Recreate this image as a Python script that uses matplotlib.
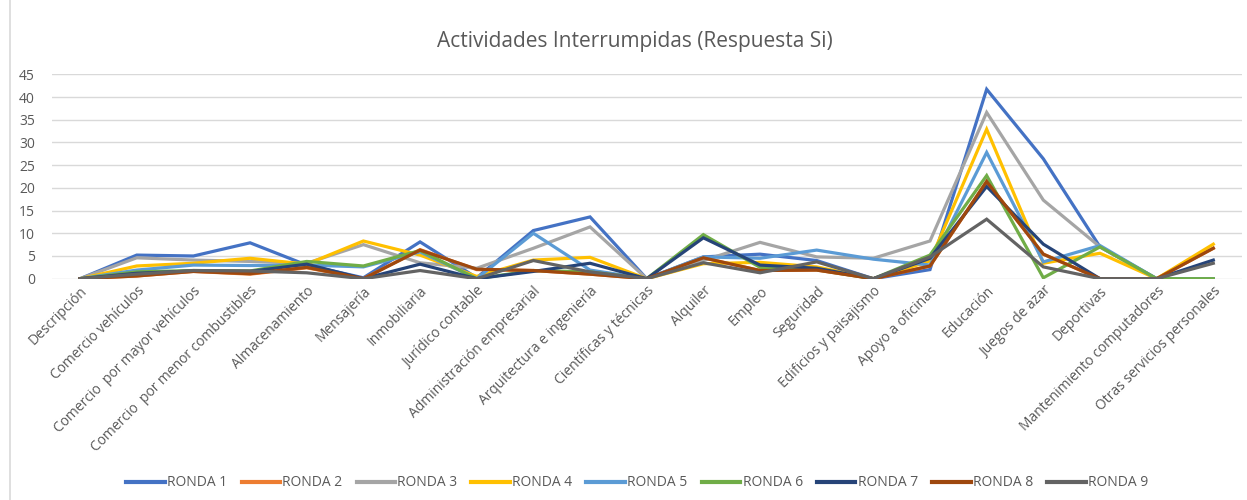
import matplotlib.pyplot as plt
from matplotlib.lines import Line2D

plt.rcParams['font.family'] = ['Open Sans', 'DejaVu Sans']

# Categorias del eje x
categorias = ["Descripción", "Comercio vehículos", "Comercio  por mayor vehículos",
              "Comercio  por menor combustibles", "Almacenamiento", "Mensajería",
              "Inmobiliaria", "Jurídico contable", "Administración empresarial",
              "Arquitectura e ingeniería", "Científicas y técnicas", "Alquiler",
              "Empleo", "Seguridad", "Edificios y paisajismo", "Apoyo a oficinas",
              "Educación", "Juegos de azar", "Deportivas", "Mantenimiento computadores",
              "Otras servicios personales"]

# Valores por ronda
ronda1 = [0, 5.2, 5.0, 7.9, 3.0, 0.2, 8.1, 0.2, 10.6, 13.6, 0, 4.8, 5.4, 4.0, 0, 2.0, 41.7, 26.4, 7.0, 0, 0]
ronda2 = [0, 0.6, 1.6, 1.0, 2.4, 0, 6.4, 2.0, 1.8, 1.0, 0, 4.6, 1.8, 1.9, 0, 2.8, 21.4, 5.4, 0, 0, 6.7]
ronda3 = [0, 4.6, 4.1, 3.8, 3.4, 7.5, 3.5, 2.3, 6.7, 11.4, 0, 4.0, 8.0, 4.8, 4.5, 8.3, 36.6, 17.3, 7.0, 0, 0]
ronda4 = [0, 2.8, 3.4, 4.5, 3.2, 8.3, 5.2, 0.5, 4.1, 4.7, 0, 3.3, 3.6, 2.6, 0, 3.9, 32.9, 3.4, 5.6, 0, 7.6]
ronda5 = [0, 1.9, 3.0, 2.9, 3.0, 2.6, 5.9, 0, 10.0, 1.9, 0, 4.8, 4.5, 6.3, 4.3, 3.0, 27.8, 3.7, 7.3, 0, 0]
ronda6 = [0, 1.5, 1.8, 1.7, 3.8, 2.8, 6.2, 0, 1.8, 1.5, 0, 9.7, 2.5, 2.0, 0, 5.2, 22.7, 0.2, 7.0, 0, 0]
ronda7 = [0, 1.2, 1.7, 1.6, 3.2, 0, 3.2, 0, 1.6, 3.4, 0, 9.0, 3.0, 2.3, 0, 4.5, 20.3, 7.6, 0, 0, 4.1]
ronda8 = [0, 0.6, 1.6, 1.1, 2.5, 0, 6.3, 2.1, 1.8, 1.0, 0, 4.6, 1.8, 1.9, 0, 2.8, 21.4, 5.4, 0, 0, 6.7]
ronda9 = [0, 1.0, 1.8, 1.7, 1.3, 0, 1.8, 0, 4.0, 1.5, 0, 3.5, 1.3, 3.7, 0, 4.8, 13.1, 2.6, 0, 0, 3.4]

series = [ronda1, ronda2, ronda3, ronda4, ronda5, ronda6, ronda7, ronda8, ronda9]
nombres = ["RONDA 1", "RONDA 2", "RONDA 3", "RONDA 4", "RONDA 5",
           "RONDA 6", "RONDA 7", "RONDA 8", "RONDA 9"]
colores = ["#4472C4", "#ED7D31", "#A5A5A5", "#FFC000", "#5B9BD5",
           "#70AD47", "#264478", "#9E480E", "#636363"]

texto = "#595959"

fig = plt.figure(figsize=(12.47, 5.0), dpi=100)
ax = fig.add_axes([0.0415, 0.4426, 0.9542, 0.4088])

x = list(range(len(categorias)))
for vals, nombre, color in zip(series, nombres, colores):
    ax.plot(x, vals, color=color, linewidth=2.3, label=nombre, solid_joinstyle='miter')

ax.set_xlim(-0.5, len(categorias) - 0.5)
ax.set_ylim(0, 45)
ax.set_yticks(range(0, 46, 5))
ax.yaxis.grid(True, color="#D9D9D9", linewidth=1)
ax.set_axisbelow(True)
for s in ax.spines.values():
    s.set_visible(False)
ax.tick_params(axis='both', length=0, colors=texto, labelsize=10)
ax.tick_params(axis='y', pad=12)
ax.set_xticks(x)
ax.set_xticklabels(categorias, rotation=45, ha='right', rotation_mode='anchor', color=texto)

fig.text(0.509, 0.918, "Actividades Interrumpidas (Respuesta Si)", ha='center', va='center',
         fontsize=15, color=texto)

handles = [Line2D([0], [0], color=c, linewidth=3) for c in colores]
fig.legend(handles, nombres, loc='center', bbox_to_anchor=(0.511, 0.034), ncol=9,
           frameon=False, fontsize=10, labelcolor=texto, handlelength=2.8,
           handletextpad=0.15, columnspacing=1.0)

# borde del area del grafico
fig.add_artist(Line2D([0.008, 0.008], [0, 1], color="#D9D9D9", linewidth=1.2))

fig.savefig("out.png", dpi=100)
